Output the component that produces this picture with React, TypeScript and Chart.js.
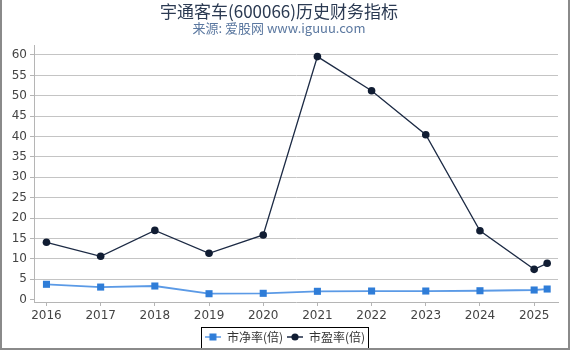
import React, { useEffect, useRef } from "react";
import { Chart, registerables } from "chart.js";

Chart.register(...registerables);

const titleText = "宇通客车(600066)历史财务指标";
const subtitleText = "来源: 爱股网 www.iguuu.com";
const xPositions = [2016, 2017, 2018, 2019, 2020, 2021, 2022, 2023, 2024, 2025, 2025.24];
const pbValues = [3.78, 3.1, 3.36, 1.47, 1.57, 2.06, 2.13, 2.13, 2.2, 2.38, 2.62];
const peValues = [14.08, 10.64, 17.0, 11.38, 15.87, 59.6, 51.25, 40.46, 16.92, 7.45, 8.93];
const seriesNames = ["市净率(倍)", "市盈率(倍)"];
const yearTicks = [2016, 2017, 2018, 2019, 2020, 2021, 2022, 2023, 2024, 2025];
const yTicks = [0, 5, 10, 15, 20, 25, 30, 35, 40, 45, 50, 55, 60];

const PB_LINE = "#5b9ae6";
const PB_POINT = "#2f7dd8";
const PE_LINE = "#1c2a44";
const PE_POINT = "#111d33";

function makeIcon(kind: "rect" | "circle", lineColor: string, pointColor: string) {
  const c = document.createElement("canvas");
  c.width = 16;
  c.height = 10;
  const g = c.getContext("2d")!;
  g.strokeStyle = lineColor;
  g.lineWidth = 1.5;
  g.beginPath();
  g.moveTo(0, 5);
  g.lineTo(16, 5);
  g.stroke();
  g.fillStyle = pointColor;
  if (kind === "rect") {
    g.fillRect(4.5, 1.5, 7, 7);
  } else {
    g.beginPath();
    g.arc(8, 5, 3.6, 0, Math.PI * 2);
    g.fill();
  }
  return c;
}

export default function App() {
  const ref = useRef<HTMLCanvasElement | null>(null);

  useEffect(() => {
    document.body.style.margin = "0";
    const canvas = ref.current;
    if (!canvas) return;
    const icons = [makeIcon("rect", PB_LINE, PB_POINT), makeIcon("circle", PE_LINE, PE_POINT)];

    const framePlugin = {
      id: "framePlugin",
      afterLayout(chart: any) {
        const lg = chart.legend;
        if (lg) {
          const shift = 3;
          lg.top += shift;
          lg.bottom += shift;
          lg.left += 6;
          lg.right += 6;
        }
      },
      afterDraw(chart: any) {
        const ctx = chart.ctx;
        const lg = chart.legend;
        if (lg && lg.lineWidths) {
          const pad = lg.options.labels.padding;
          const lw = lg.lineWidths[0];
          const x0 = (lg.left + pad + lg.right - lw) / 2;
          const x1 = x0 + lw - pad;
          ctx.save();
          ctx.strokeStyle = "#000";
          ctx.lineWidth = 1;
          ctx.strokeRect(Math.round(x0 - 4) + 0.5, 327.5, Math.round(x1 - x0 + 7), 21);
          ctx.restore();
        }
        ctx.save();
        ctx.fillStyle = "#8a8a8a";
        ctx.fillRect(0, 0, 2, 350);
        ctx.fillRect(568, 0, 2, 350);
        ctx.fillRect(0, 348, 570, 2);
        ctx.restore();
      },
    };

    const chart = new Chart(canvas, {
      type: "line",
      data: {
        datasets: [
          {
            label: seriesNames[0],
            data: xPositions.map((x, i) => ({ x, y: pbValues[i] })),
            borderColor: PB_LINE,
            backgroundColor: PB_POINT,
            pointBackgroundColor: PB_POINT,
            pointBorderColor: PB_POINT,
            pointStyle: "rect",
            pointRadius: 5,
            pointBorderWidth: 0,
            borderWidth: 1.8,
            tension: 0,
          },
          {
            label: seriesNames[1],
            data: xPositions.map((x, i) => ({ x, y: peValues[i] })),
            borderColor: PE_LINE,
            backgroundColor: PE_POINT,
            pointBackgroundColor: PE_POINT,
            pointBorderColor: PE_POINT,
            pointStyle: "circle",
            pointRadius: 3.8,
            pointBorderWidth: 0,
            borderWidth: 1.3,
            tension: 0,
          },
        ],
      },
      options: {
        animation: false,
        responsive: false,
        devicePixelRatio: 1,
        layout: { padding: { left: 0, right: 12, top: 0, bottom: 0 } },
        plugins: {
          title: {
            display: true,
            text: titleText,
            color: "#2b3a52",
            font: { family: '"Noto Sans CJK SC", sans-serif', size: 17, weight: "normal", lineHeight: 1 },
            padding: { top: 3, bottom: 0 },
          },
          subtitle: {
            display: true,
            text: subtitleText,
            color: "#5b78a0",
            font: { family: '"Noto Sans CJK SC", sans-serif', size: 13, weight: "normal", lineHeight: 1 },
            padding: { top: 2, bottom: 10 },
          },
          legend: {
            display: true,
            position: "bottom",
            labels: {
              usePointStyle: true,
              pointStyleWidth: 16,
              padding: 4,
              color: "#333",
              font: { family: '"Noto Sans CJK SC", "DejaVu Sans", sans-serif', size: 12 },
              generateLabels: (ch: any) => {
                const items = (Chart.defaults as any).plugins.legend.labels.generateLabels(ch);
                items.forEach((it: any, i: number) => {
                  it.pointStyle = icons[i];
                });
                return items;
              },
            },
          },
          tooltip: { enabled: false },
        },
        scales: {
          x: {
            type: "linear",
            min: 2015.77,
            max: 2025.44,
            afterBuildTicks: (scale: any) => {
              scale.ticks = yearTicks.map((v) => ({ value: v }));
            },
            afterFit: (scale: any) => {
              const lh = scale.chart.legend && scale.chart.legend.height ? scale.chart.legend.height : 26;
              scale.height = 350 - 302 - lh;
            },
            grid: {
              drawOnChartArea: false,
              drawTicks: true,
              tickLength: 4,
              tickColor: "#b5b5b5",
              color: "#b5b5b5",
            },
            border: { display: true, color: "#b5b5b5", width: 1 },
            ticks: {
              padding: 3,
              color: "#444",
              font: { family: '"DejaVu Sans", sans-serif', size: 12 },
              autoSkip: false,
              maxRotation: 0,
              callback: (v: any) => String(v),
            },
          },
          y: {
            type: "linear",
            min: -0.56,
            max: 62.45,
            afterBuildTicks: (scale: any) => {
              scale.ticks = yTicks.map((v) => ({ value: v }));
            },
            afterFit: (scale: any) => {
              scale.width = 34;
            },
            grid: {
              color: (c: any) => (c.tick && c.tick.value === 0 ? "rgba(0,0,0,0)" : "#c4c4c4"),
              tickColor: "#b5b5b5",
              tickLength: 4,
              lineWidth: 1,
            },
            border: { display: true, color: "#b5b5b5", width: 1 },
            ticks: {
              padding: 3,
              color: "#444",
              font: { family: '"DejaVu Sans", sans-serif', size: 12 },
              callback: (v: any) => String(v),
            },
          },
        },
      },
      plugins: [framePlugin],
    } as any);

    return () => {
      chart.destroy();
    };
  }, []);

  return (
    <div style={{ width: 570, height: 350, position: "relative" }}>
      <canvas ref={ref} width={570} height={350} style={{ width: 570, height: 350, display: "block" }} />
    </div>
  );
}
